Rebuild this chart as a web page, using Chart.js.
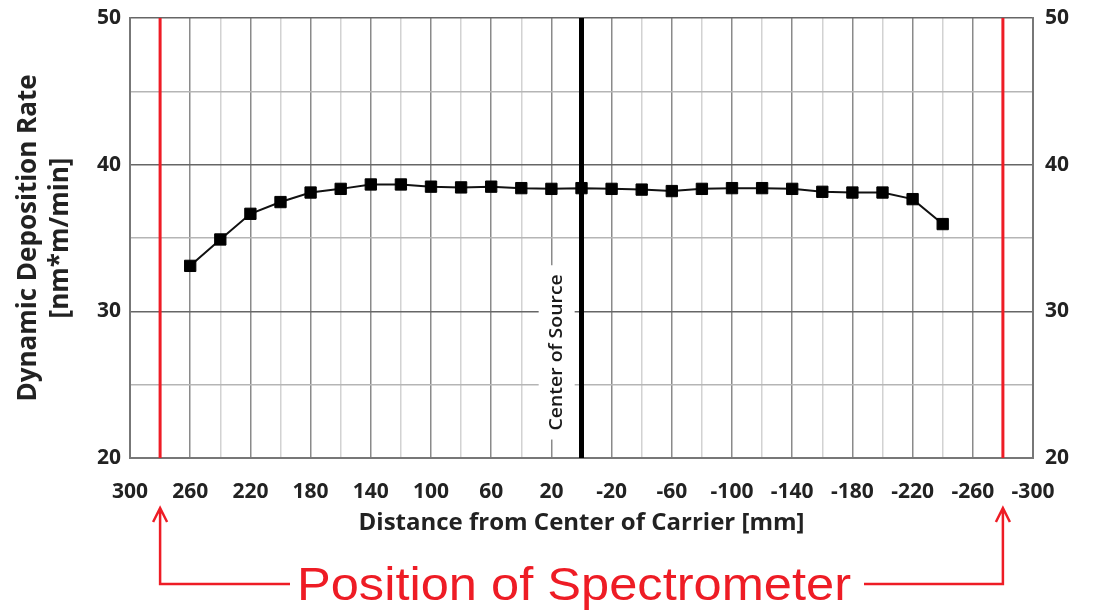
<!DOCTYPE html>
<html>
<head>
<meta charset="utf-8">
<script src="https://cdn.jsdelivr.net/npm/chart.js@4/dist/chart.umd.min.js"></script>
<style>
  html, body { margin: 0; padding: 0; background: #fff; }
  #wrap { width: 1105px; height: 612px; }
</style>
</head>
<body>
<div id="wrap"><canvas id="rateChart" width="1105" height="612"></canvas></div>
<script>
// carrier position [mm] and measured rate [nm*m/min]
const distances = [260, 240, 220, 200, 180, 160, 140, 120, 100, 80, 60, 40, 20, 0,
    -20, -40, -60, -80, -100, -120, -140, -160, -180, -200, -220, -240];
const depositionRate = [33.1, 34.9, 36.65, 37.45, 38.1, 38.35, 38.65, 38.65, 38.5, 38.45, 38.5, 38.4, 38.35, 38.4,
    38.35, 38.3, 38.2, 38.35, 38.4, 38.4, 38.35, 38.15, 38.1, 38.1, 37.65, 35.95];

const spectrometerPos = [280, -280];
const sourceCenter = 0;
const xRange = [-300, 300];
const yRange = [20, 50];

const tickFont = { family: "'Open Sans', sans-serif", size: 21, weight: 'bold' };
const RED = '#ee1c25';

function verticalLine(x, color, width) {
    return {
        type: 'line',
        data: [{ x: x, y: yRange[0] }, { x: x, y: yRange[1] }],
        borderColor: color,
        borderWidth: width,
        pointRadius: 0,
        xAxisID: 'x',
        yAxisID: 'y',
        order: 2,
    };
}

// fixed axis box, no extra room for the end tick labels
function fixWidth(w) {
    return (s) => {
        s.width = w;
        s.paddingTop = 0;
        s.paddingBottom = 0;
    };
}

// arrows + caption underneath the axis
const spectrometerNote = {
    id: 'spectrometerNote',
    afterDraw(chart) {
        const ctx = chart.ctx;
        const xs = chart.scales.x;
        const left = xs.getPixelForValue(spectrometerPos[0]);
        const right = xs.getPixelForValue(spectrometerPos[1]);
        const tipY = 508, baseY = 584;
        const cx = 574;

        ctx.save();
        ctx.strokeStyle = RED;
        ctx.lineWidth = 2.5;
        ctx.lineJoin = 'miter';

        ctx.beginPath();
        ctx.moveTo(290, baseY); ctx.lineTo(left, baseY); ctx.lineTo(left, tipY);
        ctx.moveTo(left - 7, tipY + 14); ctx.lineTo(left, tipY); ctx.lineTo(left + 7, tipY + 14);
        ctx.moveTo(864, baseY); ctx.lineTo(right, baseY); ctx.lineTo(right, tipY);
        ctx.moveTo(right - 7, tipY + 14); ctx.lineTo(right, tipY); ctx.lineTo(right + 7, tipY + 14);
        ctx.stroke();

        ctx.translate(cx, 600);
        ctx.scale(1.1, 1);
        ctx.fillStyle = RED;
        ctx.font = "46px 'Liberation Sans', Arial, sans-serif";
        ctx.textAlign = 'center';
        ctx.textBaseline = 'alphabetic';
        ctx.fillText('Position of Spectrometer', 0, 0);
        ctx.restore();
    }
};

// rotated label beside the source line
const sourceLabel = {
    id: 'sourceLabel',
    beforeDatasetsDraw(chart) {
        const ctx = chart.ctx;
        const x = chart.scales.x.getPixelForValue(16.5);
        const y = chart.scales.y.getPixelForValue(27.2);
        const text = 'Center of Source';
        ctx.save();
        ctx.font = "600 18px 'Open Sans', sans-serif";
        const w = ctx.measureText(text).width * 1.08;
        ctx.fillStyle = '#fff';
        ctx.fillRect(x - 18, y - w / 2 - 9, 36, w + 18);
        ctx.translate(x, y);
        ctx.rotate(-Math.PI / 2);
        ctx.scale(1.08, 1);
        ctx.fillStyle = '#1a1a1a';
        ctx.textAlign = 'center';
        ctx.textBaseline = 'middle';
        ctx.fillText(text, 0, 0);
        ctx.restore();
    }
};

new Chart(document.getElementById('rateChart'), {
    type: 'line',
    data: {
        datasets: [
            {
                label: 'Rate',
                data: distances.map((d, i) => ({ x: d, y: depositionRate[i] })),
                borderColor: '#111',
                borderWidth: 2,
                pointStyle: 'rect',
                pointRadius: 8,
                pointBorderWidth: 1,
                pointBackgroundColor: '#000',
                pointBorderColor: '#000',
                xAxisID: 'x',
                yAxisID: 'y',
                order: 1,
            },
            verticalLine(spectrometerPos[0], RED, 3),
            verticalLine(spectrometerPos[1], RED, 3),
            verticalLine(sourceCenter, '#000', 5),
        ],
    },
    options: {
        responsive: false,
        animation: false,
        layout: { padding: { top: 18, left: 0, right: 0, bottom: 0 } },
        plugins: {
            legend: { display: false },
            tooltip: { enabled: false },
        },
        scales: {
            x: {
                type: 'linear',
                reverse: true,
                min: xRange[0],
                max: xRange[1],
                afterFit: (s) => { s.height = 154; },
                ticks: {
                    stepSize: 20,
                    autoSkip: false,
                    maxRotation: 0,
                    padding: 21,
                    color: '#222',
                    font: tickFont,
                    callback: (v) => ((300 - v) % 40 === 0 ? String(v) : ''),
                },
                grid: {
                    drawTicks: false,
                    lineWidth: 1.5,
                    color: (c) => ((300 - c.tick.value) % 40 === 0 ? '#8a8a8a' : '#d2d2d2'),
                },
                border: { color: '#777', width: 2 },
                title: {
                    display: true,
                    text: 'Distance from Center of Carrier [mm]',
                    color: '#222',
                    font: { family: "'Open Sans', sans-serif", size: 24, weight: 'bold' },
                    padding: { top: 0, bottom: 74 },
                },
            },
            y: {
                position: 'left',
                min: yRange[0],
                max: yRange[1],
                afterFit: fixWidth(130),
                ticks: {
                    stepSize: 5,
                    padding: 9,
                    color: '#222',
                    font: tickFont,
                    callback: (v) => (v % 10 === 0 ? String(v) : ''),
                },
                grid: {
                    drawTicks: false,
                    lineWidth: 1.5,
                    color: (c) => (c.tick.value % 10 === 0 ? '#666' : '#b5b5b5'),
                },
                border: { color: '#777', width: 2 },
                title: {
                    display: true,
                    text: ['Dynamic Deposition Rate', '[nm*m/min]'],
                    color: '#222',
                    font: { family: "'Open Sans', sans-serif", size: 26, weight: 'bold', lineHeight: 1.25 },
                    padding: { top: 12, bottom: 0 },
                },
            },
            y2: {
                position: 'right',
                min: yRange[0],
                max: yRange[1],
                afterFit: fixWidth(72),
                ticks: {
                    stepSize: 10,
                    padding: 12,
                    color: '#222',
                    font: tickFont,
                },
                grid: { display: false, drawTicks: false },
                border: { color: '#777', width: 2 },
            },
        },
    },
    plugins: [sourceLabel, spectrometerNote],
});
</script>
</body>
</html>
